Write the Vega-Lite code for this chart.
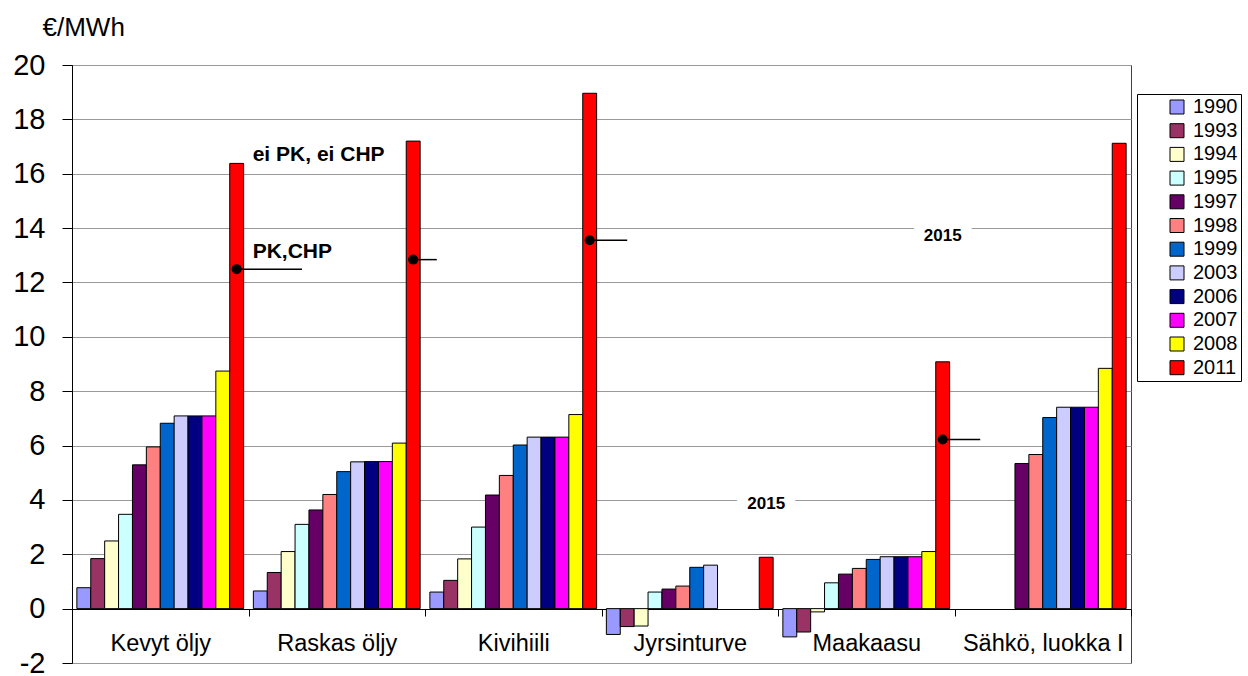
{
  "$schema": "https://vega.github.io/schema/vega-lite/v6.json",
  "width": 1059,
  "height": 598,
  "autosize": "none",
  "padding": {"left": 72, "top": 65, "right": 117, "bottom": 13},
  "config": {
    "font": "Liberation Sans",
    "view": {"stroke": "#404040", "strokeWidth": 1}
  },
  "datasets": {
    "bars": [
      {"cat": "Kevyt öljy", "year": "1990", "v": 0.77},
      {"cat": "Kevyt öljy", "year": "1993", "v": 1.84},
      {"cat": "Kevyt öljy", "year": "1994", "v": 2.49},
      {"cat": "Kevyt öljy", "year": "1995", "v": 3.47},
      {"cat": "Kevyt öljy", "year": "1997", "v": 5.29},
      {"cat": "Kevyt öljy", "year": "1998", "v": 5.95},
      {"cat": "Kevyt öljy", "year": "1999", "v": 6.82},
      {"cat": "Kevyt öljy", "year": "2003", "v": 7.09},
      {"cat": "Kevyt öljy", "year": "2006", "v": 7.09},
      {"cat": "Kevyt öljy", "year": "2007", "v": 7.09},
      {"cat": "Kevyt öljy", "year": "2008", "v": 8.74},
      {"cat": "Kevyt öljy", "year": "2011", "v": 16.38},
      {"cat": "Raskas öljy", "year": "1990", "v": 0.65},
      {"cat": "Raskas öljy", "year": "1993", "v": 1.33},
      {"cat": "Raskas öljy", "year": "1994", "v": 2.1},
      {"cat": "Raskas öljy", "year": "1995", "v": 3.1},
      {"cat": "Raskas öljy", "year": "1997", "v": 3.63},
      {"cat": "Raskas öljy", "year": "1998", "v": 4.2},
      {"cat": "Raskas öljy", "year": "1999", "v": 5.04},
      {"cat": "Raskas öljy", "year": "2003", "v": 5.4},
      {"cat": "Raskas öljy", "year": "2006", "v": 5.41},
      {"cat": "Raskas öljy", "year": "2007", "v": 5.41},
      {"cat": "Raskas öljy", "year": "2008", "v": 6.09},
      {"cat": "Raskas öljy", "year": "2011", "v": 17.2},
      {"cat": "Kivihiili", "year": "1990", "v": 0.61},
      {"cat": "Kivihiili", "year": "1993", "v": 1.04},
      {"cat": "Kivihiili", "year": "1994", "v": 1.83},
      {"cat": "Kivihiili", "year": "1995", "v": 3.0},
      {"cat": "Kivihiili", "year": "1997", "v": 4.18},
      {"cat": "Kivihiili", "year": "1998", "v": 4.9},
      {"cat": "Kivihiili", "year": "1999", "v": 6.02},
      {"cat": "Kivihiili", "year": "2003", "v": 6.31},
      {"cat": "Kivihiili", "year": "2006", "v": 6.31},
      {"cat": "Kivihiili", "year": "2007", "v": 6.31},
      {"cat": "Kivihiili", "year": "2008", "v": 7.14},
      {"cat": "Kivihiili", "year": "2011", "v": 18.96},
      {"cat": "Jyrsinturve", "year": "1990", "v": -0.95},
      {"cat": "Jyrsinturve", "year": "1993", "v": -0.66},
      {"cat": "Jyrsinturve", "year": "1994", "v": -0.64},
      {"cat": "Jyrsinturve", "year": "1995", "v": 0.61},
      {"cat": "Jyrsinturve", "year": "1997", "v": 0.72},
      {"cat": "Jyrsinturve", "year": "1998", "v": 0.83},
      {"cat": "Jyrsinturve", "year": "1999", "v": 1.52},
      {"cat": "Jyrsinturve", "year": "2003", "v": 1.6},
      {"cat": "Jyrsinturve", "year": "2011", "v": 1.89},
      {"cat": "Maakaasu", "year": "1990", "v": -1.04},
      {"cat": "Maakaasu", "year": "1993", "v": -0.86},
      {"cat": "Maakaasu", "year": "1994", "v": -0.12},
      {"cat": "Maakaasu", "year": "1995", "v": 0.95},
      {"cat": "Maakaasu", "year": "1997", "v": 1.27},
      {"cat": "Maakaasu", "year": "1998", "v": 1.48},
      {"cat": "Maakaasu", "year": "1999", "v": 1.81},
      {"cat": "Maakaasu", "year": "2003", "v": 1.91},
      {"cat": "Maakaasu", "year": "2006", "v": 1.91},
      {"cat": "Maakaasu", "year": "2007", "v": 1.91},
      {"cat": "Maakaasu", "year": "2008", "v": 2.1},
      {"cat": "Maakaasu", "year": "2011", "v": 9.08},
      {"cat": "Sähkö, luokka I", "year": "1997", "v": 5.34},
      {"cat": "Sähkö, luokka I", "year": "1998", "v": 5.67},
      {"cat": "Sähkö, luokka I", "year": "1999", "v": 7.03},
      {"cat": "Sähkö, luokka I", "year": "2003", "v": 7.41},
      {"cat": "Sähkö, luokka I", "year": "2006", "v": 7.41},
      {"cat": "Sähkö, luokka I", "year": "2007", "v": 7.41},
      {"cat": "Sähkö, luokka I", "year": "2008", "v": 8.84},
      {"cat": "Sähkö, luokka I", "year": "2011", "v": 17.12}
    ],
    "lines": [
      {"id": "a", "cat": "Kevyt öljy", "year": "2011", "v": 12.49},
      {"id": "a", "cat": "Raskas öljy", "year": "1995", "v": 12.49},
      {"id": "b", "cat": "Raskas öljy", "year": "2011", "v": 12.84},
      {"id": "b", "cat": "Kivihiili", "year": "1990", "v": 12.84},
      {"id": "c", "cat": "Kivihiili", "year": "2011", "v": 13.55},
      {"id": "c", "cat": "Jyrsinturve", "year": "1993", "v": 13.55},
      {"id": "d", "cat": "Maakaasu", "year": "2011", "v": 6.22},
      {"id": "d", "cat": "Sähkö, luokka I", "year": "1993", "v": 6.22}
    ],
    "dots": [
      {"cat": "Kevyt öljy", "year": "2011", "v": 12.49},
      {"cat": "Raskas öljy", "year": "2011", "v": 12.84},
      {"cat": "Kivihiili", "year": "2011", "v": 13.55},
      {"cat": "Maakaasu", "year": "2011", "v": 6.22}
    ],
    "y2015": [
      {"cat": "Jyrsinturve", "year": "2011", "v": 3.84, "label": "2015"},
      {"cat": "Maakaasu", "year": "2011", "v": 13.7, "label": "2015"}
    ],
    "notes": [
      {"cat": "Kevyt öljy", "year": "2011", "v": 16.68, "label": "ei PK, ei CHP"},
      {"cat": "Kevyt öljy", "year": "2011", "v": 13.13, "label": "PK,CHP"}
    ]
  },
  "encoding": {
    "x": {
      "field": "cat",
      "type": "nominal",
      "sort": null,
      "scale": {"domain": ["Kevyt öljy", "Raskas öljy", "Kivihiili", "Jyrsinturve", "Maakaasu", "Sähkö, luokka I"], "paddingInner": 0, "paddingOuter": 0},
      "axis": {
        "title": null,
        "labelAngle": 0,
        "labelFontSize": 23.5,
        "labelColor": "black",
        "domainColor": "black",
        "tickColor": "black",
        "tickSize": 7,
        "tickBand": "extent",
        "offset": -54,
        "labelPadding": 15,
        "grid": false
      }
    },
    "xOffset": {
      "field": "year",
      "type": "nominal",
      "scale": {"domain": ["1990", "1993", "1994", "1995", "1997", "1998", "1999", "2003", "2006", "2007", "2008", "2011"], "paddingInner": 0, "paddingOuter": 0.35}
    },
    "y": {
      "field": "v",
      "type": "quantitative",
      "scale": {"domain": [-2, 20], "nice": false, "zero": false},
      "axis": {
        "values": [-2, 0, 2, 4, 6, 8, 10, 12, 14, 16, 18, 20],
        "labelExpr": "toString(datum.value)",
        "labelFontSize": 29,
        "labelColor": "black",
        "labelPadding": 17,
        "tickSize": 10,
        "tickColor": "black",
        "domainColor": "black",
        "gridColor": "#999999",
        "title": "€/MWh",
        "titleAngle": 0,
        "titleAlign": "left",
        "titleBaseline": "alphabetic",
        "titleX": -30,
        "titleY": -30,
        "titleFontSize": 26,
        "titleFontWeight": "normal",
        "titleColor": "black"
      }
    }
  },
  "layer": [
    {
      "data": {"name": "bars"},
      "mark": {"type": "bar", "stroke": "black", "strokeWidth": 1},
      "encoding": {
        "color": {
          "field": "year",
          "type": "nominal",
          "scale": {
            "domain": ["1990", "1993", "1994", "1995", "1997", "1998", "1999", "2003", "2006", "2007", "2008", "2011"],
            "range": ["#9999FF", "#993366", "#FFFFCC", "#CCFFFF", "#660066", "#FF8080", "#0066CC", "#CCCCFF", "#000080", "#FF00FF", "#FFFF00", "#FF0000"]
          },
          "legend": {
            "title": null,
            "orient": "none",
            "legendX": 1065,
            "legendY": 29,
            "symbolType": "square",
            "symbolSize": 196,
            "symbolStrokeColor": "black",
            "symbolStrokeWidth": 1,
            "symbolOpacity": 1,
            "labelFontSize": 20,
            "labelColor": "black",
            "labelOffset": 6,
            "labelExpr": "datum.label + '\u00a0\u00a0\u00a0\u00a0'",
            "symbolOffset": 27,
            "padding": 3,
            "rowPadding": 3.7,
            "strokeColor": "black",
            "fillColor": "white"
          }
        }
      }
    },
    {
      "data": {"name": "lines"},
      "mark": {"type": "line", "color": "black", "strokeWidth": 1.5},
      "encoding": {"detail": {"field": "id", "type": "nominal"}}
    },
    {
      "data": {"name": "dots"},
      "mark": {"type": "circle", "color": "black", "opacity": 1, "size": 100},
      "encoding": {}
    },
    {
      "data": {"name": "y2015"},
      "mark": {"type": "text", "fontSize": 17, "fontWeight": "bold", "color": "white", "stroke": "white", "strokeWidth": 22, "strokeJoin": "round", "baseline": "middle"},
      "encoding": {"text": {"field": "label"}}
    },
    {
      "data": {"name": "y2015"},
      "mark": {"type": "text", "fontSize": 17, "fontWeight": "bold", "color": "black", "baseline": "middle"},
      "encoding": {"text": {"field": "label"}}
    },
    {
      "data": {"name": "notes"},
      "mark": {"type": "text", "fontSize": 21, "fontWeight": "bold", "color": "black", "align": "left", "baseline": "middle", "dx": 16},
      "encoding": {"text": {"field": "label"}}
    }
  ]
}
